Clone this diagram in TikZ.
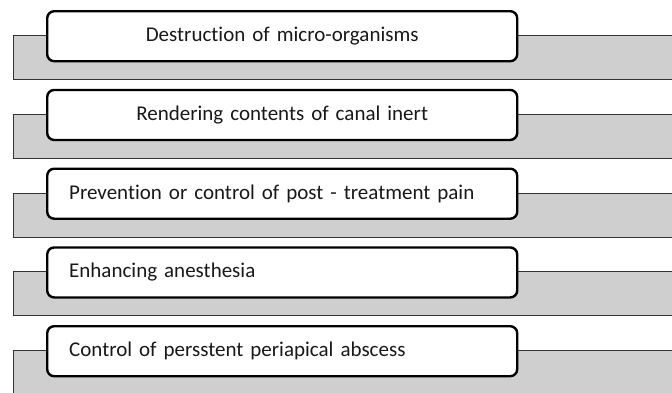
\documentclass[tikz,border=0pt]{standalone}
\usepackage{fontspec}
\setmainfont[Ligatures=NoCommon]{Carlito}
\begin{document}
\begin{tikzpicture}[x=1pt,y=-1pt,
  bar/.style={draw=black!80, line width=1pt, fill=black!19, rectangle, anchor=north west, minimum width=700pt, minimum height=44pt, inner sep=0pt, outer sep=0pt},
  itembox/.style={draw=black, line width=2.4pt, fill=white, rounded corners=7pt, anchor=north west, minimum width=470pt, minimum height=50pt, text width=426pt, inner xsep=22pt, inner ysep=0pt, outer sep=0pt, font=\fontsize{21}{24}\selectfont, text=black!90},
  ctr/.style={itembox, align=center},
  lft/.style={itembox, align=left}]
\useasboundingbox (0,0) rectangle (672,392);
\clip (0,0) rectangle (672,392);
\foreach \i/\t in {1/10,2/88.75,3/167.5,4/246.25,5/325}{
  \node[bar] (g\i) at (13.5,\t+25.5) {};
}
\node[ctr] (b1) at (47.2,11.2) {Destruction of micro-organisms};
\node[ctr] (b2) at (47.2,89.95) {Rendering contents of canal inert};
\node[lft] (b3) at (47.2,168.7) {Prevention or control of post - treatment pain};
\node[lft] (b4) at (47.2,247.45) {Enhancing anesthesia};
\node[lft] (b5) at (47.2,326.2) {Control of persstent periapical abscess};
\end{tikzpicture}
\end{document}
